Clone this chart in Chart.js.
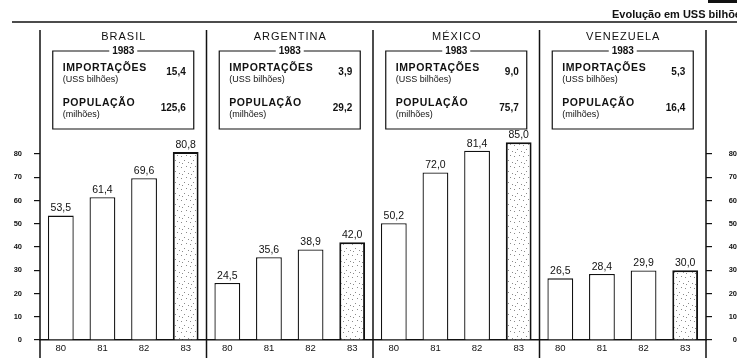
<!DOCTYPE html>
<html>
<head>
<meta charset="utf-8">
<script src="https://cdn.jsdelivr.net/npm/chart.js@4"></script>
<style>
  html, body { margin: 0; padding: 0; background: #fff; }
  #wrap { width: 737px; height: 358px; position: relative; }
</style>
</head>
<body>
<div id="wrap"><canvas id="c"></canvas></div>
<script>
// --- DATOS ---
const countries = ['BRASIL', 'ARGENTINA', 'MÉXICO', 'VENEZUELA'];
const years = ['80', '81', '82', '83'];
const brasil = [53.5, 61.4, 69.6, 80.8];
const argentina = [24.5, 35.6, 38.9, 42.0];
const mexico = [50.2, 72.0, 81.4, 85.0];
const venezuela = [26.5, 28.4, 29.9, 30.0];
const imports1983 = [15.4, 3.9, 9.0, 5.3];
const population1983 = [125.6, 29.2, 75.7, 16.4];
const yTicks = [0, 10, 20, 30, 40, 50, 60, 70, 80];
const title = 'Evolução em USS bilhões';

const FONT = '"Liberation Sans", Arial, sans-serif';
const fmt = v => v.toFixed(1).replace('.', ',');

const labels = [];
countries.forEach(() => years.forEach(y => labels.push(y)));
const values = [].concat(brasil, argentina, mexico, venezuela);

// textura punteada para las barras de 1983
function stipple() {
  const c = document.createElement('canvas');
  c.width = 9; c.height = 11;
  const g = c.getContext('2d');
  g.fillStyle = '#fff';
  g.fillRect(0, 0, 9, 11);
  g.fillStyle = '#8a8a8a';
  [[1, 2], [6, 1], [4, 6], [8, 8], [2, 9]].forEach(p => g.fillRect(p[0], p[1], 1, 1));
  return g.createPattern(c, 'repeat');
}
const dots = stipple();

const panelsPlugin = {
  id: 'panels',
  afterDraw(chart) {
    const ctx = chart.ctx;
    const area = chart.chartArea;
    const xs = chart.scales.x;
    ctx.save();
    ctx.fillStyle = '#111';
    ctx.strokeStyle = '#111';

    // cabecera
    ctx.font = '600 11px ' + FONT;
    ctx.textAlign = 'left';
    ctx.textBaseline = 'middle';
    ctx.fillText(title, 612, 15);
    ctx.fillRect(708, 0, 29, 3);
    ctx.lineWidth = 1.5;
    ctx.beginPath();
    ctx.moveTo(12, 22); ctx.lineTo(737, 22);
    ctx.stroke();

    // divisores
    const edges = [area.left];
    for (let p = 1; p < countries.length; p++) {
      edges.push((xs.getPixelForValue(p * 4 - 1) + xs.getPixelForValue(p * 4)) / 2);
    }
    edges.push(area.right);
    ctx.lineWidth = 1.5;
    edges.forEach(x => {
      ctx.beginPath();
      ctx.moveTo(x, area.top); ctx.lineTo(x, 358);
      ctx.stroke();
    });

    // títulos y recuadros
    countries.forEach((name, p) => {
      const cx = (edges[p] + edges[p + 1]) / 2;
      ctx.font = '11px ' + FONT;
      ctx.letterSpacing = '1px';
      ctx.textAlign = 'center';
      ctx.fillText(name, cx + 0.5, 36.5);
      ctx.letterSpacing = '0px';

      const bw = 141, bl = cx - bw / 2, br = cx + bw / 2, bt = 51, bb = 129;
      ctx.lineWidth = 1.2;
      ctx.beginPath();
      ctx.moveTo(cx - 14, bt); ctx.lineTo(bl, bt); ctx.lineTo(bl, bb);
      ctx.lineTo(br, bb); ctx.lineTo(br, bt); ctx.lineTo(cx + 14, bt);
      ctx.stroke();
      ctx.font = 'bold 10px ' + FONT;
      ctx.fillText('1983', cx, bt);

      ctx.textAlign = 'left';
      ctx.font = 'bold 10.5px ' + FONT;
      ctx.letterSpacing = '0.6px';
      ctx.fillText('IMPORTAÇÕES', bl + 10, 68.5);
      ctx.fillText('POPULAÇÃO', bl + 10, 103);
      ctx.letterSpacing = '0px';
      ctx.font = '9px ' + FONT;
      ctx.fillText('(USS bilhões)', bl + 10, 80);
      ctx.fillText('(milhões)', bl + 10, 114.5);
      ctx.textAlign = 'right';
      ctx.font = '600 10px ' + FONT;
      ctx.fillText(fmt(imports1983[p]), br - 8, 72.5);
      ctx.fillText(fmt(population1983[p]), br - 8, 108.5);
    });

    // valores sobre las barras
    ctx.font = '10.5px ' + FONT;
    ctx.textAlign = 'center';
    ctx.textBaseline = 'middle';
    chart.getDatasetMeta(0).data.forEach((bar, i) => {
      ctx.fillText(fmt(values[i]), bar.x, bar.y - 7);
    });
    ctx.restore();
  }
};

const yCommon = {
  min: 0,
  max: 133.3,
  afterBuildTicks: s => { s.ticks = yTicks.map(v => ({ value: v })); },
  border: { display: false },
  grid: { drawOnChartArea: false, drawTicks: true, tickLength: 6, color: '#111', lineWidth: 1.2 },
  ticks: { color: '#111', font: { size: 7.5, weight: 'bold' }, padding: 12 }
};

new Chart(document.getElementById('c'), {
  type: 'bar',
  data: {
    labels: labels,
    datasets: [{
      data: values,
      backgroundColor: values.map((v, i) => i % 4 === 3 ? dots : '#fff'),
      borderColor: '#111',
      borderWidth: values.map((v, i) => i % 4 === 3 ? 2 : 1.3),
      borderSkipped: 'bottom',
      categoryPercentage: 1,
      barPercentage: 0.62
    }]
  },
  options: {
    responsive: true,
    maintainAspectRatio: false,
    animation: false,
    layout: { padding: { top: 30, left: 0, right: 0, bottom: 0 } },
    plugins: { legend: { display: false }, tooltip: { enabled: false } },
    scales: {
      x: {
        afterFit: s => { s.height = 18; },
        grid: { display: false, drawTicks: false },
        border: { display: true, color: '#111', width: 1.5 },
        ticks: { color: '#111', font: { size: 9.5 }, padding: 3, maxRotation: 0, autoSkip: false }
      },
      y: Object.assign({}, yCommon, {
        position: 'left',
        afterFit: s => { s.width = 40; }
      }),
      y2: Object.assign({}, yCommon, {
        position: 'right',
        afterFit: s => { s.width = 31; },
        ticks: { color: '#111', font: { size: 7.5, weight: 'bold' }, padding: 1, crossAlign: 'far' }
      })
    }
  },
  plugins: [panelsPlugin]
});
</script>
</body>
</html>
